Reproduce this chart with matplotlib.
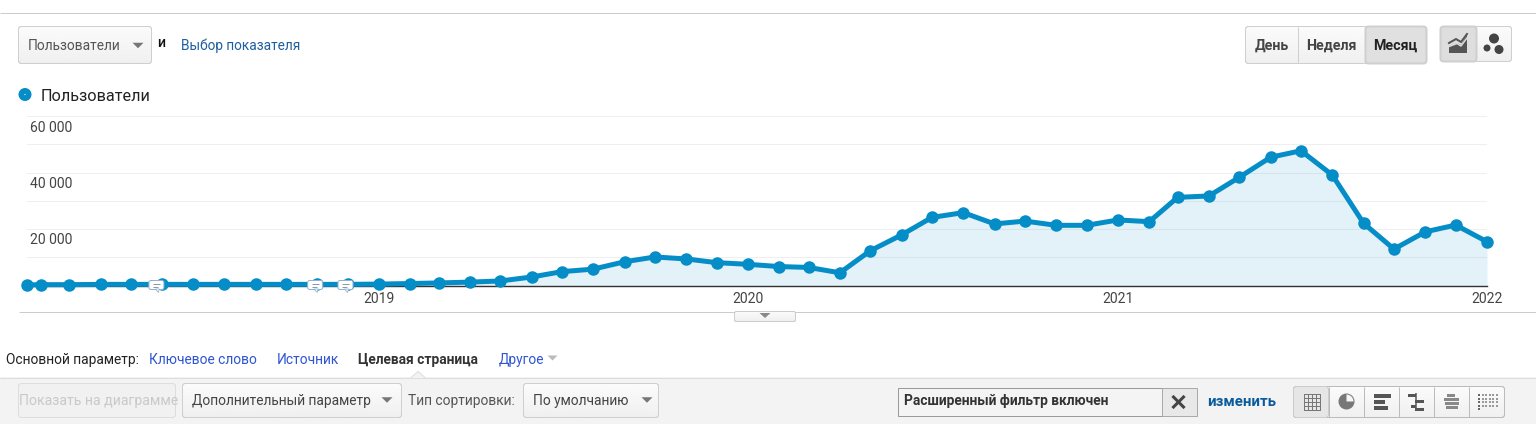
#!/usr/bin/env python3

import matplotlib
matplotlib.use('Agg')
import matplotlib.dates as mdates
import matplotlib.pyplot as plt
import numpy as np
from matplotlib.patches import Circle, FancyBboxPatch, Polygon, Rectangle, Wedge
from datetime import date

plt.rcParams['font.family'] = ['Roboto', 'DejaVu Sans']

W, H = 1536, 424
PX = 72.0 / 100  # one pixel in points at dpi 100

series_name = 'Пользователи'
months = [date(2018, 1, 18)] + [date(2018 + i // 12, i % 12 + 1, 1) for i in range(1, 49)]
users = [200, 300, 300, 400, 400, 400, 400, 400, 400, 400, 400, 400,
         500, 700, 900, 1200, 1600, 3000, 4900, 5800, 8400, 10100, 9400, 8100,
         7500, 6700, 6400, 4500, 12300, 17900, 24100, 25800, 21800, 22800, 21300, 21300,
         23200, 22600, 31200, 31700, 38300, 45400, 47700, 39100, 22000, 12900, 19000, 21400,
         15500]
grid_values = [10000, 20000, 30000, 40000, 50000, 60000]
label_values = [20000, 40000, 60000]
year_ticks = [date(2019, 1, 1), date(2020, 1, 1), date(2021, 1, 1), date(2022, 1, 1)]
note_dates = [date(2018, 5, 26), date(2018, 10, 30), date(2018, 11, 29)]

LINE = '#058dc7'
LINK = '#1f5f9e'
TAB = '#2f55d4'
TEXT = '#444444'

fig = plt.figure(figsize=(W / 100, H / 100), dpi=100)

# chart area
ax = fig.add_axes([27 / W, (H - 285.5) / H, 1460 / W, 169.5 / H])
ax.set_xlim(mdates.date2num(months[0]), mdates.date2num(year_ticks[-1]))
ax.set_ylim(0, 60000)
x = mdates.date2num(months)
ax.fill_between(x, users, 0, color=LINE, alpha=0.11, lw=0, zorder=1)
ax.set_yticks(grid_values)
ax.set_axisbelow(True)
ax.grid(axis='y', color='#efefef', lw=1.0 * PX)
ax.plot(x, users, color=LINE, lw=5 * PX, marker='o', ms=12.5 * PX, mew=0,
        clip_on=False, zorder=4)
for s in ['top', 'left', 'right']:
    ax.spines[s].set_visible(False)
ax.spines['bottom'].set_color('#333333')
ax.spines['bottom'].set_linewidth(1.4 * PX)
ax.tick_params(axis='y', left=False, labelleft=False)
ax.set_xticks(mdates.date2num(year_ticks))
ax.set_xticklabels([str(d.year) for d in year_ticks], color=TEXT, fontsize=14 * PX)
ax.tick_params(axis='x', length=0, pad=6.5 * PX)
for v in label_values:
    ax.annotate('{} 000'.format(v // 1000), xy=(0, v), xycoords=ax.get_yaxis_transform(),
                xytext=(3, -11.5), textcoords='offset pixels', ha='left', va='center',
                color=TEXT, fontsize=14 * PX)

# page furniture, in pixel coordinates
ui = fig.add_axes([0, 0, 1, 1], zorder=5)
ui.set_xlim(0, W)
ui.set_ylim(H, 0)
ui.axis('off')
ui.patch.set_alpha(0)


def box(x0, y0, x1, y1, face='#f6f6f6', edge='#cfcfcf', r=3, lw=1.0, z=2, shade=True):
    patch = FancyBboxPatch((x0, y0), x1 - x0, y1 - y0,
                           boxstyle='round,pad=0,rounding_size={}'.format(r),
                           fc=face, ec=edge, lw=lw * PX, zorder=z)
    ui.add_patch(patch)
    if shade:
        ramp = np.linspace(0.985, 0.94, 32).reshape(-1, 1)
        im = ui.imshow(ramp, cmap='gray', vmin=0, vmax=1, aspect='auto',
                       extent=(x0, x1, y1, y0), zorder=z)
        im.set_clip_path(patch)
        outline = FancyBboxPatch((x0, y0), x1 - x0, y1 - y0,
                                 boxstyle='round,pad=0,rounding_size={}'.format(r),
                                 fc='none', ec=edge, lw=lw * PX, zorder=z)
        ui.add_patch(outline)
        ui.set_xlim(0, W)
        ui.set_ylim(H, 0)


def label(px, py, s, size=13, color=TEXT, weight='normal', ha='left'):
    ui.text(px, py, s, fontsize=size * PX, color=color, weight=weight,
            ha=ha, va='center', zorder=6)


def caret(cx, cy, w=11, h=5.5, color='#777777'):
    ui.add_patch(Polygon([(cx - w / 2, cy - h / 2), (cx + w / 2, cy - h / 2), (cx, cy + h / 2)],
                         fc=color, ec='none', zorder=6))


def hline(x0, x1, y, color, lw=1.0, z=1):
    ui.plot([x0, x1], [y, y], color=color, lw=lw * PX, zorder=z, solid_capstyle='butt')


def vline(px, y0, y1, color, lw=1.0):
    ui.plot([px, px], [y0, y1], color=color, lw=lw * PX, zorder=6, solid_capstyle='butt')


hline(0, W, 12.5, '#cccccc')

# metric selector
box(18.5, 26.5, 151.5, 63.5)
label(28, 45.5, series_name, 13.8, '#555555')
caret(138, 45.5)
label(157, 43, 'и', 14, '#111111', 'medium')
label(181, 45.5, 'Выбор показателя', 13.6, LINK)

# period buttons
box(1245.5, 26.5, 1426.5, 63.5)
box(1365.5, 26.5, 1426.5, 63.5, face='#e0e0e0', edge='#cfcfcf', lw=2, shade=False)
vline(1297.5, 27, 63, '#cfcfcf')
label(1271.5, 45.5, 'День', 14.3, '#444444', 'bold', 'center')
label(1331.5, 45.5, 'Неделя', 14.3, '#444444', 'bold', 'center')
label(1395.5, 45.5, 'Месяц', 14.3, '#222222', 'bold', 'center')

# chart type toggles
box(1440.5, 26.5, 1511.5, 61.5)
box(1440.5, 26.5, 1476.5, 61.5, face='#dedede', edge='#cfcfcf', lw=2, shade=False)
ui.add_patch(Polygon([(1449, 53), (1449, 46), (1457, 43), (1461, 45), (1467, 35),
                      (1467, 53)], fc='#555555', ec='none', zorder=6))
ui.plot([1449, 1456, 1461, 1467], [43, 39, 42, 34], color='#555555', lw=2 * PX, zorder=6)
ui.plot([1449, 1457, 1461, 1467], [46.5, 43.5, 46, 38], color='#dedede', lw=1.5 * PX, zorder=6)
for cx, cy, r in [(1494, 38.5, 5), (1487, 48, 3.5), (1499, 49.5, 4.5)]:
    ui.add_patch(Circle((cx, cy), r, fc='#444444', ec='none', zorder=6))

# legend
ui.add_patch(Circle((25, 94.5), 6.5, fc=LINE, ec='none', zorder=6))
ui.add_patch(Circle((25, 94.5), 0.6, fc='white', ec='none', zorder=7))
label(41, 96.5, series_name, 16.3, '#222222')

# comment markers on the time line
for d in note_dates:
    nx = ax.transData.transform((mdates.date2num(d), 0))[0]
    box(nx - 7.5, 280.5, nx + 7.5, 289.5, face='white', edge='#8fb3d0', r=2, z=6, shade=False)
    ui.add_patch(Polygon([(nx - 1, 289), (nx + 3, 289), (nx + 2, 292.5)],
                         fc='white', ec='#8fb3d0', lw=0.8 * PX, zorder=6))
    hline(nx - 3.5, nx + 3.5, 284, '#8a9aaa', z=7)
    hline(nx - 3.5, nx + 1.5, 286.5, '#8a9aaa', z=7)

# rule under the chart and collapse tab
hline(19, W, 311.5, '#cccccc')
box(734.5, 311.5, 795.5, 321.5, face='#ececec', edge='#cccccc', r=2)
caret(765, 315.5, 11, 5, '#888888')

# primary dimension row
label(6, 360, 'Основной параметр:', 13.8, '#222222')
label(149, 360, 'Ключевое слово', 13.7, TAB)
label(277, 360, 'Источник', 13.7, TAB)
label(358, 360, 'Целевая страница', 13.8, '#333333', 'bold')
label(499, 360, 'Другое', 13.7, TAB)
caret(552.5, 358, 10, 5, '#bbbbbb')

# toolbar band
ui.add_patch(Rectangle((0, 377), W, H - 377, fc='#f3f3f3', ec='none', zorder=1))
hline(0, W, 377.5, '#dddddd', z=2)
ui.add_patch(Polygon([(411, 378), (418, 371.5), (425, 378)], fc='#f3f3f3', ec='none', zorder=3))
ui.plot([411, 418, 425], [377.5, 371.5, 377.5], color='#dddddd', lw=PX, zorder=3)

box(18.5, 383.5, 175.5, 417.5, face='#f1f1f1', edge='#dddddd', shade=False)
label(19, 401.5, 'Показать на диаграмме', 14, '#c9c9c9')
box(182.5, 383.5, 401.5, 417.5)
label(192, 401.5, 'Дополнительный параметр', 13.8, '#444444')
caret(387, 400)
label(408, 400.5, 'Тип сортировки:', 13.7, '#555555')
box(523.5, 383.5, 658.5, 417.5)
label(533, 401.5, 'По умолчанию', 13.7, '#444444')
caret(647, 400)

# advanced filter
ui.add_patch(Rectangle((897.5, 387.5), 264, 28.5, fc='#f4f4f4', ec='#999999', lw=PX, zorder=2))
label(904, 400.5, 'Расширенный фильтр включен', 13.8, '#333333', 'bold')
ui.add_patch(Rectangle((1161.5, 387.5), 35, 28.5, fc='#e8e8e8', ec='#aaaaaa', lw=PX, zorder=2))
ui.plot([1173.5, 1183.5], [397, 407], color='#444444', lw=3 * PX, zorder=6)
ui.plot([1173.5, 1183.5], [407, 397], color='#444444', lw=3 * PX, zorder=6)
label(1207, 402, 'изменить', 15, '#0a5a9c', 'bold')

# view buttons
box(1293.5, 386.5, 1504.5, 417.5, edge='#bbbbbb')
box(1293.5, 386.5, 1328.5, 417.5, face='#e6e6e6', edge='#cccccc', shade=False)
for i in range(1, 6):
    vline(1293.5 + i * 35, 387, 417, '#bbbbbb')
# table
for k in range(5):
    vline(1304 + k * 4, 394, 410, '#777777')
    ui.plot([1304, 1320], [394 + k * 4] * 2, color='#777777', lw=PX, zorder=6)
# pie
ui.add_patch(Circle((1346.5, 401.5), 8, fc='#777777', ec='none', zorder=6))
ui.add_patch(Wedge((1346.5, 401.5), 7, -90, 0, fc='#f6f6f6', ec='none', zorder=6))
# bars
for y0, w in [(394, 17), (400, 11), (406, 14)]:
    ui.add_patch(Rectangle((1373.5, y0), w, 4, fc='#555555', ec='none', zorder=6))
# comparison
vline(1415.5, 393, 410, '#555555', 1.5)
for x0, y0, w in [(1408, 394, 8), (1415, 400, 9), (1411, 405, 5), (1415, 408, 9)]:
    ui.add_patch(Rectangle((x0, y0), w, 2.5, fc='#555555', ec='none', zorder=6))
# term cloud
for x0, y0, w in [(1447, 394, 8), (1444, 398, 15), (1445, 402, 14), (1446, 406, 12)]:
    ui.add_patch(Rectangle((x0, y0), w, 2.5, fc='#888888', ec='none', zorder=6))
# pivot
for k, n in enumerate([5, 4, 4, 4, 4, 4]):
    for j in range(n):
        ui.add_patch(Rectangle((1478 + k * 3.5, 394 + j * 3.5), 2.2, 2.2,
                               fc='#666666' if k == 0 else '#999999', ec='none', zorder=6))

fig.savefig('out.png', dpi=100)
